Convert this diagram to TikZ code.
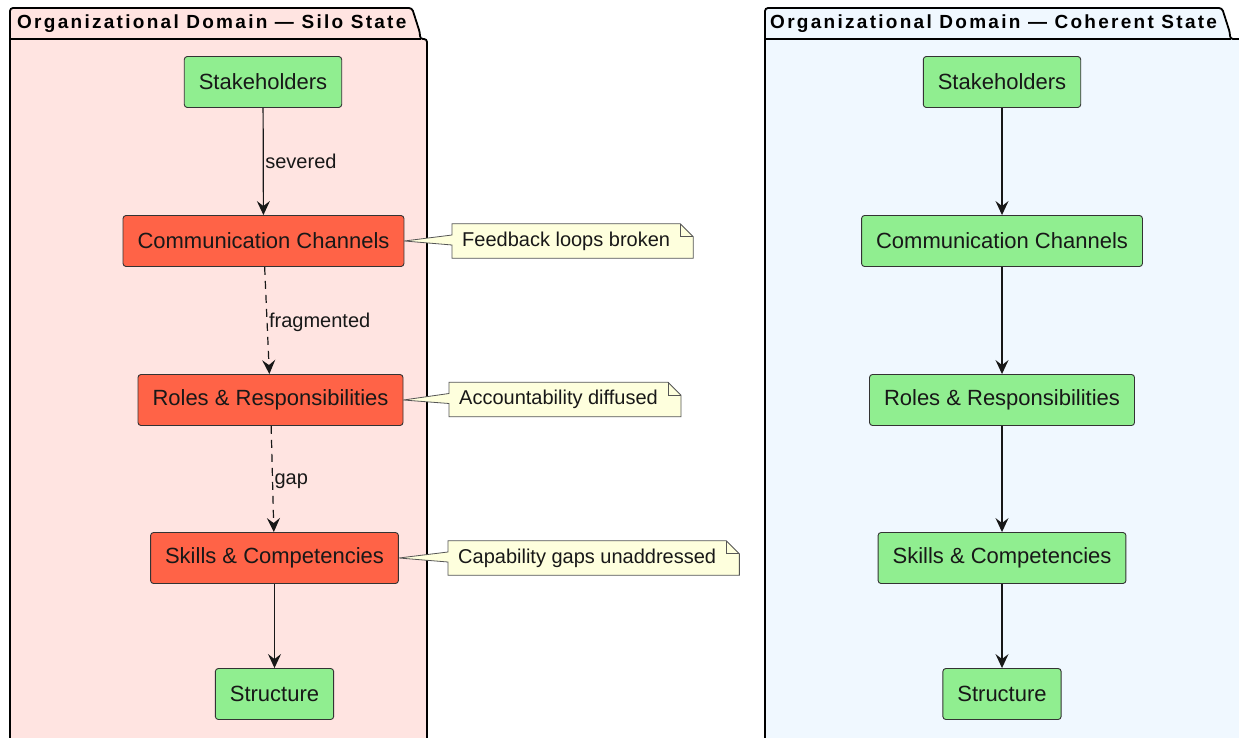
\documentclass[tikz,border=0pt]{standalone}
\usepackage{fontspec}
\setmainfont{Liberation Sans}
\newfontfamily\titlefont{Liberation Sans}[LetterSpace=12]
\usetikzlibrary{arrows.meta}
\definecolor{tomatoc}{HTML}{FF6347}
\definecolor{okgreen}{HTML}{90EE90}
\definecolor{mistyrose}{HTML}{FFE4E1}
\definecolor{aliceblue}{HTML}{F0F8FF}
\definecolor{noteyellow}{HTML}{FEFFDD}
\definecolor{boxline}{HTML}{333333}
\definecolor{linec}{HTML}{181818}
\definecolor{noteline}{HTML}{555555}
\pgfdeclarelayer{back}
\pgfsetlayers{back,main}
\begin{document}
\begin{tikzpicture}[x=1pt,y=-1pt,
  box/.style={draw=boxline, line width=0.9pt, rounded corners=3pt, minimum height=51pt, inner xsep=14.5pt, text=linec, font=\fontsize{22}{26}\selectfont},
  ok/.style={box, fill=okgreen},
  bad/.style={box, fill=tomatoc},
  conn/.style={draw=linec, line width=1.2pt, -{Stealth[length=14pt,width=13pt,inset=5pt]}},
  dconn/.style={conn, dash pattern=on 8pt off 6pt},
  lab/.style={font=\fontsize{20}{24}\selectfont, anchor=west, inner sep=1.5pt, text=linec},
  notetxt/.style={font=\fontsize{20}{24}\selectfont, anchor=west, inner xsep=10pt, inner ysep=0pt, minimum height=34pt, text=linec},
  noteshape/.style={draw=noteline, line width=0.8pt, fill=noteyellow},
  pkg/.style={draw=black, line width=1.8pt},
  ttl/.style={font=\titlefont\bfseries\fontsize{19}{22}\selectfont, anchor=west, inner sep=0pt}]
\useasboundingbox (0,0) rectangle (1239,738);
\begin{pgfonlayer}{back}
  \fill[white] (0,0) rectangle (1239,738);
  \draw[pkg, fill=mistyrose, rounded corners=3pt] (10,770) -- (10,8) -- (412,8) -- (420,33) -- (420,39) -- (427,39) -- (427,770);
  \draw[pkg] (10,39) -- (421,39);
  \draw[pkg, fill=aliceblue, rounded corners=3pt] (765,770) -- (765,8) -- (1222,8) -- (1230,33) -- (1230,39) -- (1260,39) -- (1260,770);
  \draw[pkg] (765,39) -- (1231,39);
\end{pgfonlayer}
\node[ttl] (t1) at (17,23.5) {Organizational Domain — Silo State};
\node[ttl] (t2) at (770,23.5) {Organizational Domain — Coherent State};
% left
\node[ok]  (ls) at (263,82)    {Stakeholders};
\node[bad] (lc) at (263.5,241) {Communication Channels};
\node[bad] (lr) at (270.5,400) {Roles \& Responsibilities};
\node[bad] (lk) at (274.5,558) {Skills \& Competencies};
\node[ok]  (lt) at (274.5,694) {Structure};
\draw[conn] (ls) -- node[lab] {severed} (lc);
\draw[dconn] (lc) -- node[lab, yshift=-2pt] {fragmented} (lr);
\draw[dconn] (lr) -- node[lab, yshift=-2pt] {gap} (lk);
\draw[conn] (lk) -- (lt);
% right
\node[ok] (rs) at (1002,82)  {Stakeholders};
\node[ok] (rc) at (1002,241) {Communication Channels};
\node[ok] (rr) at (1002,400) {Roles \& Responsibilities};
\node[ok] (rk) at (1002,558) {Skills \& Competencies};
\node[ok] (rt) at (1002,694) {Structure};
\draw[conn] (rs) -- (rc);
\draw[conn] (rc) -- (rr);
\draw[conn] (rr) -- (rk);
\draw[conn] (rk) -- (rt);
% notes
\node[notetxt] (n1) at (452,241)   {Feedback loops broken};
\node[notetxt] (n2) at (449,399.5) {Accountability diffused};
\node[notetxt] (n3) at (448,558)   {Capability gaps unaddressed};
\begin{pgfonlayer}{back}
\foreach \n/\t in {n1/lc, n2/lr, n3/lk}{
  \draw[noteshape] (\n.north west) -- (\n.north east) -- ++(13,13) coordinate (\n c)
     -- (\n c |- \n.south) -- (\n.south west) -- ([yshift=-4pt]\n.west) -- (\t.east)
     -- ([yshift=6pt]\n.west) -- cycle;
  \draw[noteshape, fill=none] (\n.north east) -- ++(0,13) -- ++(13,0);
}
\end{pgfonlayer}
\end{tikzpicture}
\end{document}
